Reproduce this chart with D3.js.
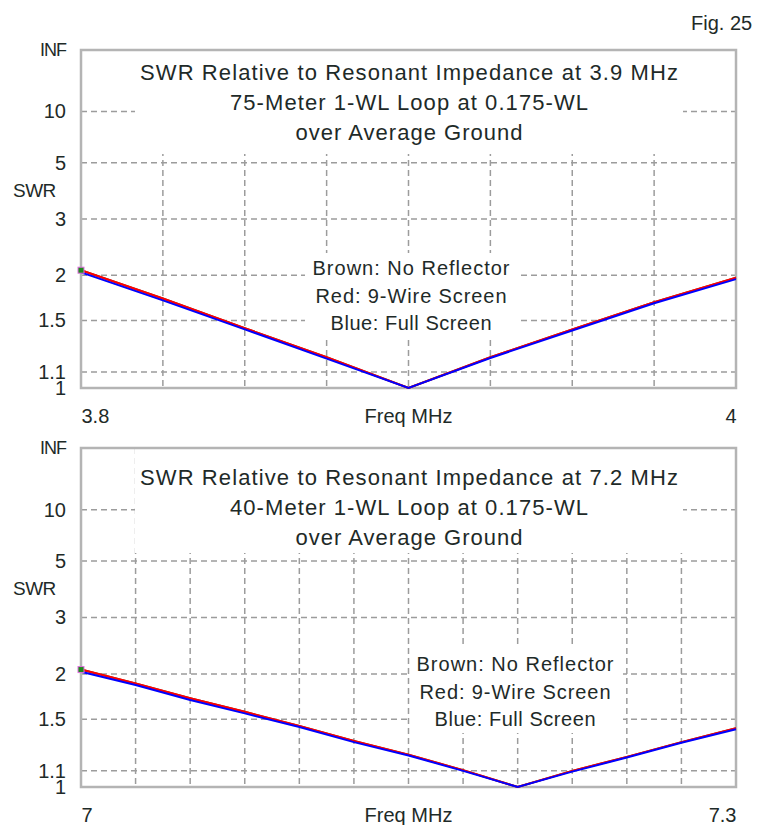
<!DOCTYPE html>
<html>
<head>
<meta charset="utf-8">
<script src="https://cdn.jsdelivr.net/npm/d3@7"></script>
<style>
  body { margin: 0; background: #fff; }
  svg { display: block; font-family: Arial, "Liberation Sans", sans-serif; }
</style>
</head>
<body>
<svg id="chart" width="766" height="825"></svg>
<script>

// SWR ticks shared by both panels
var swrTicks = [1, 1.1, 1.5, 2, 3, 5, 10, Infinity];
var swrLabels = ["1", "1.1", "1.5", "2", "3", "5", "10", "INF"];

// 75 m panel
var freq75 = [3.8, 3.825, 3.85, 3.875, 3.9, 3.925, 3.95, 3.975, 4.0];
var brown75 = [2.07, 1.72, 1.43, 1.20, 1.0, 1.20, 1.42, 1.68, 1.97];
var red75 = [2.07, 1.72, 1.43, 1.20, 1.0, 1.20, 1.42, 1.68, 1.97];
var blue75 = [2.04, 1.70, 1.42, 1.19, 1.0, 1.195, 1.41, 1.67, 1.95];
var grid75 = [3.825, 3.85, 3.875, 3.9, 3.925, 3.95, 3.975];
var xLabels75 = [3.8, 4.0];
var title75 = ["SWR Relative to Resonant Impedance at 3.9 MHz",
               "75-Meter 1-WL Loop at 0.175-WL",
               "over Average Ground"];

// 40 m panel
var freq40 = [7.0, 7.025, 7.05, 7.075, 7.1, 7.125, 7.15, 7.175, 7.2, 7.225, 7.25, 7.275, 7.3];
var brown40 = [2.06, 1.88, 1.71, 1.57, 1.44, 1.315, 1.21, 1.105, 1.0, 1.10, 1.195, 1.305, 1.42];
var red40 = [2.06, 1.88, 1.71, 1.57, 1.44, 1.315, 1.21, 1.105, 1.0, 1.10, 1.195, 1.305, 1.42];
var blue40 = [2.03, 1.86, 1.69, 1.555, 1.43, 1.305, 1.205, 1.10, 1.0, 1.095, 1.19, 1.30, 1.41];
var grid40 = [7.025, 7.05, 7.075, 7.1, 7.125, 7.15, 7.175, 7.2, 7.225, 7.25, 7.275];
var xLabels40 = [7.0, 7.3];
var title40 = ["SWR Relative to Resonant Impedance at 7.2 MHz",
               "40-Meter 1-WL Loop at 0.175-WL",
               "over Average Ground"];

var legendLines = ["Brown: No Reflector", "Red: 9-Wire Screen", "Blue: Full Screen"];
var seriesColors = ["#8b3a0f", "#ff0000", "#0000ff"];

var textColor = "#1e2a28";
var svg = d3.select("#chart");

// SWR -> reflection coefficient, the chart's vertical measure
function gamma(s) { return s === Infinity ? 1 : (s - 1) / (s + 1); }

svg.append("text")
    .attr("x", 691).attr("y", 30)
    .attr("font-size", "20px").attr("fill", textColor)
    .text("Fig. 25");

function drawPanel(p) {
  var x = d3.scaleLinear().domain(p.xDomain).range([81, 736]);
  var y = d3.scaleLinear().domain([0, 1]).range([p.bottom, p.top]);
  var g = svg.append("g");

  // grid
  g.selectAll(".vgrid").data(p.grid).enter().append("line")
      .attr("x1", function(d) { return x(d); }).attr("x2", function(d) { return x(d); })
      .attr("y1", p.top).attr("y2", p.bottom)
      .attr("stroke", "#9c9c9c").attr("stroke-width", 1.5)
      .attr("stroke-dasharray", "6,4");
  g.selectAll(".hgrid").data(swrTicks.slice(1, -1)).enter().append("line")
      .attr("x1", 81).attr("x2", 736)
      .attr("y1", function(d) { return y(gamma(d)); })
      .attr("y2", function(d) { return y(gamma(d)); })
      .attr("stroke", "#9c9c9c").attr("stroke-width", 1.5)
      .attr("stroke-dasharray", "6,4");

  // white boxes behind the texts
  [p.titleBox, p.legendBox].forEach(function(b) {
    g.append("rect").attr("x", b[0]).attr("y", b[1])
        .attr("width", b[2]).attr("height", b[3]).attr("fill", "#fff");
  });

  // title
  g.selectAll(".title").data(p.title).enter().append("text")
      .attr("x", 409)
      .attr("y", function(d, i) { return p.titleY + i * 30; })
      .attr("text-anchor", "middle")
      .attr("font-size", "22px").attr("fill", textColor)
      .attr("textLength", function(d, i) { return p.titleWidths[i]; })
      .attr("lengthAdjust", "spacing")
      .text(function(d) { return d; });

  // legend
  g.selectAll(".legend").data(legendLines).enter().append("text")
      .attr("x", p.legendX)
      .attr("y", function(d, i) { return p.legendY + i * 27.5; })
      .attr("text-anchor", "middle")
      .attr("font-size", "20px").attr("fill", textColor)
      .attr("textLength", function(d, i) { return [197, 191, 161][i]; })
      .attr("lengthAdjust", "spacing")
      .text(function(d) { return d; });

  // frame
  g.append("rect").attr("x", 81).attr("y", p.top)
      .attr("width", 655).attr("height", p.bottom - p.top)
      .attr("fill", "none").attr("stroke", "#b4b4b4").attr("stroke-width", 2.5);

  // y axis labels
  var yAxis = d3.axisLeft(y)
      .tickValues(swrTicks.map(gamma))
      .tickFormat(function(d, i) { return swrLabels[i]; })
      .tickSize(0).tickPadding(15);
  var ya = g.append("g").attr("transform", "translate(81,0)").call(yAxis);
  ya.select(".domain").remove();
  ya.selectAll("text").attr("font-size", "20px").attr("fill", textColor)
      .attr("font-family", "Arial, 'Liberation Sans', sans-serif");
  ya.selectAll("text").filter(function(d, i) { return i === 7; })
      .attr("font-size", "18px").attr("letter-spacing", "-1px");

  g.append("text").attr("x", 13).attr("y", p.top + 147)
      .attr("font-size", "19px").attr("fill", textColor)
      .attr("letter-spacing", "-0.5px")
      .text("SWR");

  // x axis labels
  var xAxis = d3.axisBottom(x)
      .tickValues(p.xLabels)
      .tickFormat(d3.format("~g"))
      .tickSize(0).tickPadding(21);
  var xa = g.append("g").attr("transform", "translate(0," + p.bottom + ")").call(xAxis);
  xa.select(".domain").remove();
  xa.selectAll("text").attr("font-size", "20px").attr("fill", textColor)
      .attr("font-family", "Arial, 'Liberation Sans', sans-serif")
      .attr("text-anchor", function(d, i) { return i === 0 ? "start" : "end"; });

  g.append("text").attr("x", 408.5).attr("y", p.bottom + 35)
      .attr("text-anchor", "middle")
      .attr("font-size", "20px").attr("fill", textColor)
      .text("Freq MHz");

  // curves
  var line = d3.line()
      .x(function(d) { return x(d[0]); })
      .y(function(d) { return y(gamma(d[1])); });
  p.series.forEach(function(s, k) {
    g.append("path")
        .datum(p.freq.map(function(f, i) { return [f, s[i]]; }))
        .attr("d", line)
        .attr("fill", "none")
        .attr("stroke", seriesColors[k])
        .attr("stroke-width", 2);
  });

  // start marker
  g.append("rect")
      .attr("x", x(p.freq[0]) - 3).attr("y", y(gamma(p.series[0][0])) - 3)
      .attr("width", 6).attr("height", 6)
      .attr("fill", "#1a8a1a").attr("stroke", "#e070e0").attr("stroke-width", 1);
}

drawPanel({
  top: 50, bottom: 388, xDomain: [3.8, 4.0], grid: grid75, xLabels: xLabels75,
  freq: freq75, series: [brown75, red75, blue75],
  title: title75, titleY: 80, titleWidths: [538, 358, 227],
  titleBox: [135, 51, 548, 103], legendBox: [305, 253, 212, 84],
  legendX: 411, legendY: 275
});

drawPanel({
  top: 448, bottom: 787, xDomain: [7.0, 7.3], grid: grid40, xLabels: xLabels40,
  freq: freq40, series: [brown40, red40, blue40],
  title: title40, titleY: 485, titleWidths: [538, 358, 227],
  titleBox: [135, 449, 548, 104], legendBox: [410, 647, 213, 86],
  legendX: 515, legendY: 671
});

</script>
</body>
</html>
